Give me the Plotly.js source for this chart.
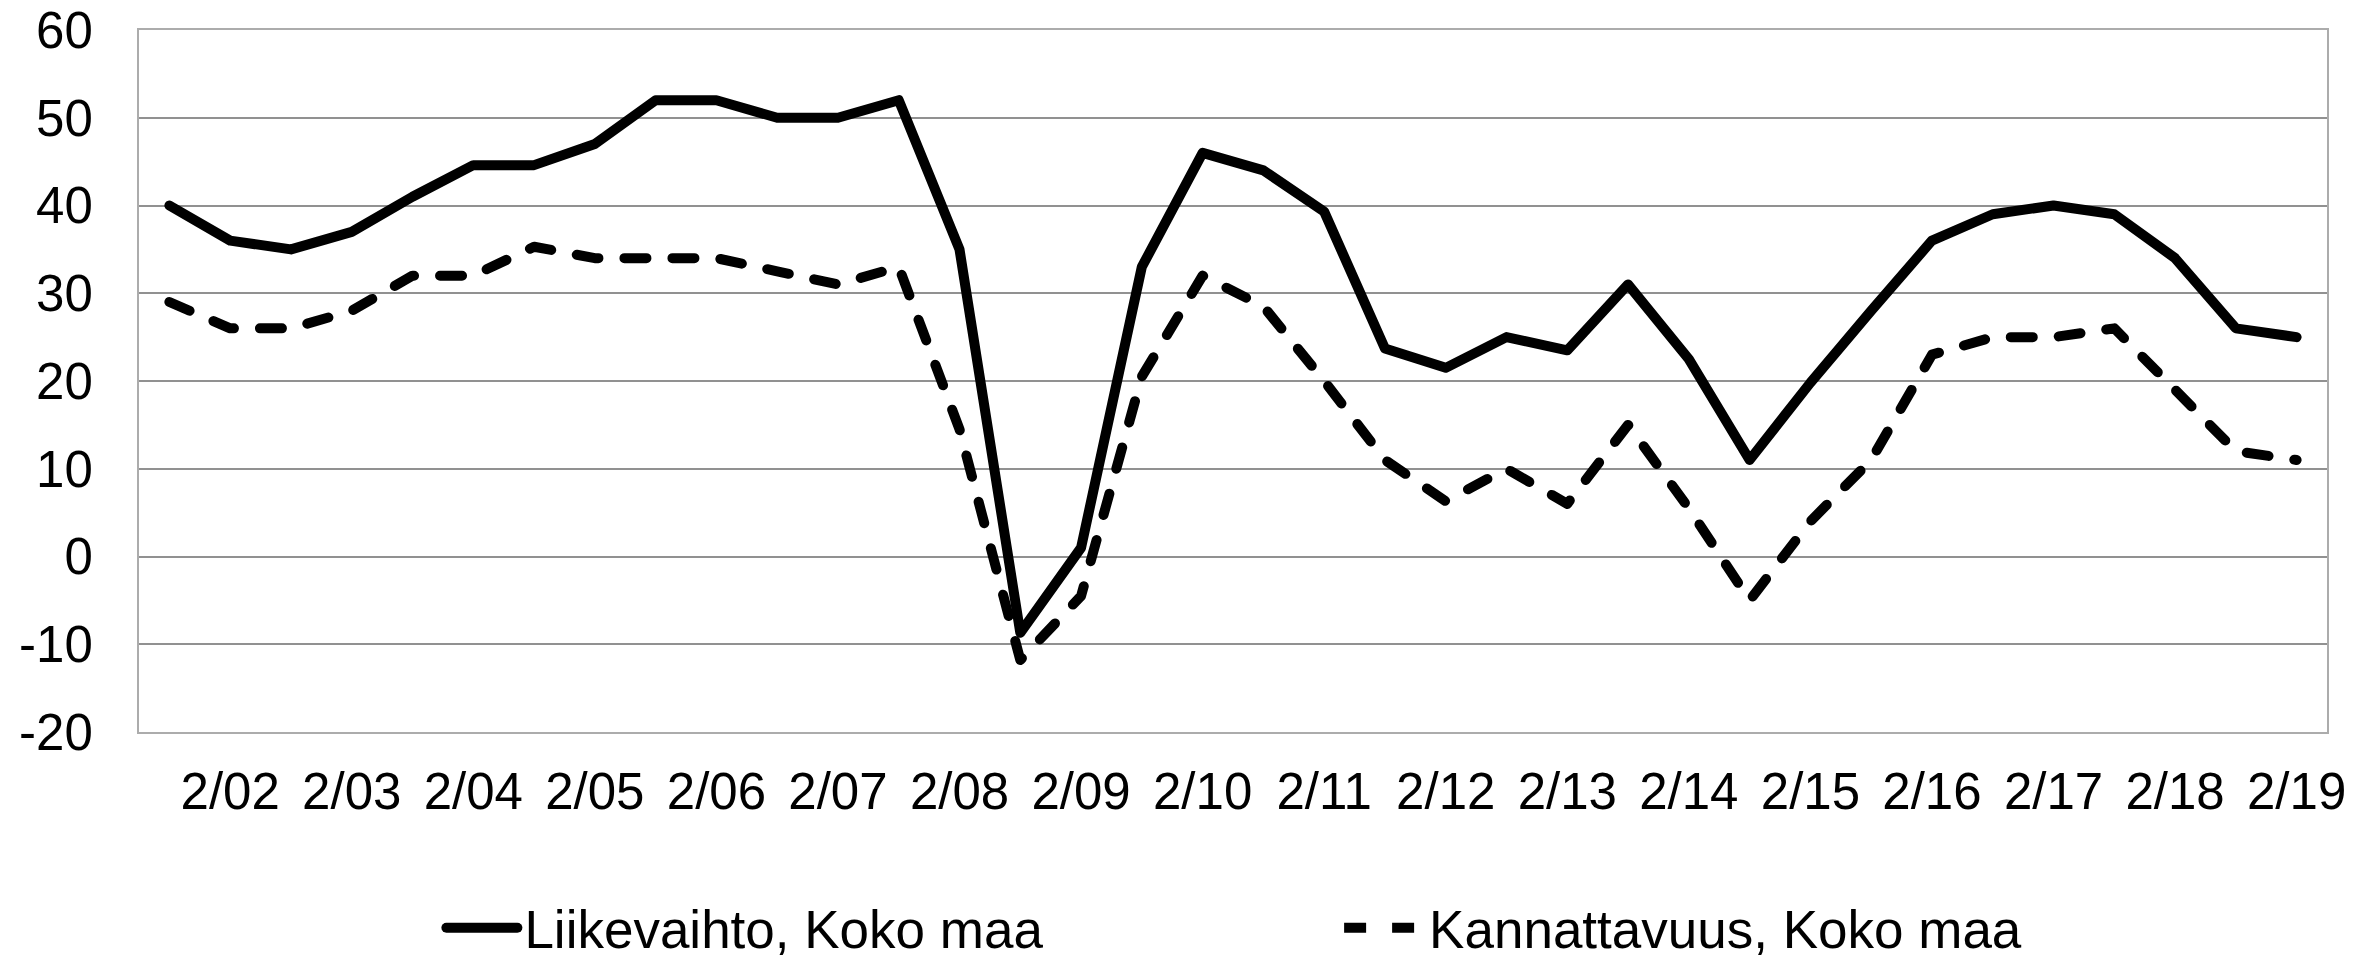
<!DOCTYPE html>
<html>
<head>
<meta charset="utf-8">
<script src="https://cdn.plot.ly/plotly-3.0.1.min.js"></script>
<style>
  html, body { margin: 0; padding: 0; background: #fff; }
  #chart { width: 2379px; height: 960px; }
  .scatterlayer .js-line { stroke-linecap: round; stroke-linejoin: round; }
  .legend .legendlines path { stroke-linecap: round; d: path("M12,0h71"); }
</style>
</head>
<body>
<div id="chart"></div>
<script>
// Half-year observation periods (category axis)
const periods = [
  "8/01","2/02","8/02","2/03","8/03","2/04","8/04","2/05","8/05","2/06",
  "8/06","2/07","8/07","2/08","8/08","2/09","8/09","2/10","8/10","2/11",
  "8/11","2/12","8/12","2/13","8/13","2/14","8/14","2/15","8/15","2/16",
  "8/16","2/17","8/17","2/18","8/18","2/19"
];
// Labels shown on the x axis
const tickLabels = [
  "2/02","2/03","2/04","2/05","2/06","2/07","2/08","2/09","2/10",
  "2/11","2/12","2/13","2/14","2/15","2/16","2/17","2/18","2/19"
];
// Series values
const liikevaihto = [
  40, 36, 35, 37, 41, 44.6, 44.6, 47, 52, 52,
  50, 50, 52, 35, -8.7, 1, 33, 46, 44, 39.3,
  23.7, 21.5, 25, 23.5, 31, 22.5, 11, 19.8, 28, 36,
  39, 40, 39, 34, 26, 25
];
const kannattavuus = [
  29, 26, 26, 28, 32, 32, 35.3, 34, 34, 34,
  32.5, 31, 33, 14.5, -11.8, -4.5, 20.5, 32, 28.5, 20,
  11, 6.3, 10, 6, 15, 5.5, -5, 4, 11, 23,
  25, 25, 26, 19, 12, 11
];
const seriesNames = ["Liikevaihto, Koko maa", "Kannattavuus, Koko maa"];
const yTicks = [-20, -10, 0, 10, 20, 30, 40, 50, 60];
const yTickText = ["-20", "-10", "0", "10", "20", "30", "40", "50", "60"];

const FONT = "Liberation Sans, Arial, sans-serif";

const traces = [
  {
    x: periods, y: liikevaihto, name: seriesNames[0], type: "scatter", mode: "lines",
    line: { color: "#000000", width: 10 }, legend: "legend"
  },
  {
    x: periods, y: kannattavuus, name: seriesNames[1], type: "scatter", mode: "lines",
    line: { color: "#000000", width: 10, dash: "22px,26px" }, legend: "legend2"
  }
];

const legendCommon = {
  orientation: "h", yanchor: "middle", xanchor: "left",
  font: { family: FONT, size: 53, color: "#000" },
  bgcolor: "rgba(0,0,0,0)", borderwidth: 0, itemwidth: 80,
  itemclick: false, itemdoubleclick: false
};

const layout = {
  width: 2379, height: 960,
  margin: { l: 139, r: 52, t: 30, b: 228, pad: 0, autoexpand: false },
  paper_bgcolor: "#ffffff", plot_bgcolor: "#ffffff",
  font: { family: FONT, size: 51, color: "#000" },
  xaxis: {
    type: "category", range: [-0.5, 35.5],
    tickmode: "array", tickvals: tickLabels, ticktext: tickLabels,
    showgrid: false, zeroline: false,
    showline: true, mirror: true, linecolor: "#acacac", linewidth: 2,
    ticks: "", ticklabelstandoff: 14,
    tickfont: { family: FONT, size: 51, color: "#000" },
    fixedrange: true
  },
  yaxis: {
    range: [-20, 60], tickmode: "array", tickvals: yTicks, ticktext: yTickText,
    showgrid: true, gridcolor: "#919191", gridwidth: 2,
    zeroline: false,
    showline: true, mirror: true, linecolor: "#acacac", linewidth: 2,
    ticks: "", ticklabelstandoff: 34,
    tickfont: { family: FONT, size: 51, color: "#000" },
    fixedrange: true
  },
  showlegend: true,
  legend: Object.assign({}, legendCommon, { x: 0.135, y: -0.279 }),
  legend2: Object.assign({}, legendCommon, { x: 0.5485, y: -0.279 })
};

Plotly.newPlot("chart", traces, layout, { displayModeBar: false, staticPlot: true });
</script>
</body>
</html>
